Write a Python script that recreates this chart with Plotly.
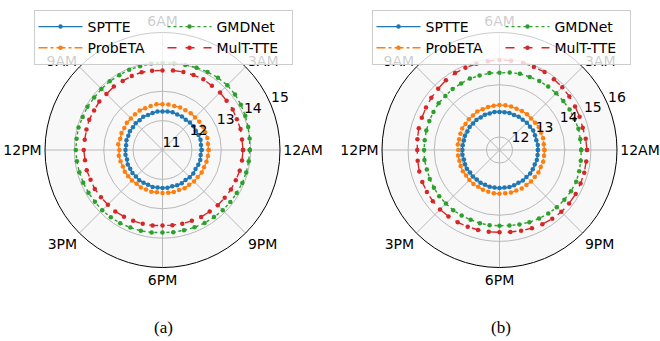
import plotly.graph_objects as go

# ---------------- data ----------------
HOURS = [i * 0.5 for i in range(48)]          # half-hour slots, 0..23.5
ANGLE_TICK_VALS = [0, 45, 90, 135, 180, 225, 270, 315]
ANGLE_TICK_TEXT = ["12AM", "3AM", "6AM", "9AM", "12PM", "3PM", "6PM", "9PM"]
SERIES_NAMES = ["SPTTE", "ProbETA", "GMDNet", "MulT-TTE"]

A_RTICKS = [11, 12, 13, 14, 15]
B_RTICKS = [12, 13, 14, 15, 16]

A_SPTTE = [12.33, 12.32, 12.34, 12.33, 12.31, 12.33, 12.32, 12.30, 12.32, 12.31, 12.33, 12.32,
           12.31, 12.32, 12.30, 12.29, 12.31, 12.28, 12.29, 12.27, 12.28, 12.26, 12.27, 12.25,
           12.26, 12.27, 12.25, 12.28, 12.27, 12.29, 12.28, 12.30, 12.29, 12.28, 12.30, 12.29,
           12.29, 12.30, 12.28, 12.30, 12.31, 12.29, 12.31, 12.32, 12.30, 12.32, 12.33, 12.31]
A_PROBETA = [12.57, 12.56, 12.58, 12.57, 12.59, 12.58, 12.57, 12.58, 12.56, 12.57, 12.55, 12.56,
             12.56, 12.57, 12.55, 12.54, 12.55, 12.53, 12.52, 12.53, 12.50, 12.51, 12.49, 12.52,
             12.47, 12.50, 12.48, 12.46, 12.48, 12.47, 12.47, 12.45, 12.47, 12.46, 12.47, 12.45,
             12.46, 12.47, 12.48, 12.47, 12.50, 12.49, 12.52, 12.51, 12.54, 12.53, 12.55, 12.56]
A_GMDNET = [13.97, 13.99, 14.02, 14.05, 14.08, 14.11, 14.12, 14.10, 14.07, 14.03, 14.00, 13.98,
            13.96, 13.97, 13.95, 13.96, 13.94, 13.95, 13.94, 13.93, 13.95, 13.94, 13.96, 13.95,
            13.95, 13.94, 13.93, 13.92, 13.91, 13.90, 13.90, 13.89, 13.88, 13.86, 13.85, 13.83,
            13.81, 13.82, 13.83, 13.85, 13.87, 13.88, 13.90, 13.91, 13.92, 13.94, 13.95, 13.96]
A_MULTTTE = [13.74, 13.73, 13.75, 13.74, 13.76, 13.75, 13.77, 13.76, 13.78, 13.76, 13.75, 13.73,
             13.71, 13.72, 13.74, 13.73, 13.71, 13.72, 13.70, 13.71, 13.69, 13.70, 13.68, 13.67,
             13.68, 13.66, 13.67, 13.65, 13.66, 13.64, 13.63, 13.64, 13.62, 13.61, 13.60, 13.59,
             13.57, 13.58, 13.60, 13.61, 13.63, 13.64, 13.66, 13.67, 13.69, 13.70, 13.72, 13.73]

B_SPTTE = [12.97, 12.98, 12.96, 12.97, 12.99, 12.97, 12.98, 12.96, 12.97, 12.95, 12.97, 12.96,
           12.96, 12.97, 12.95, 12.96, 12.94, 12.95, 12.93, 12.94, 12.92, 12.93, 12.91, 12.92,
           12.92, 12.93, 12.91, 12.93, 12.94, 12.92, 12.94, 12.93, 12.95, 12.94, 12.96, 12.95,
           12.96, 12.95, 12.97, 12.96, 12.95, 12.97, 12.96, 12.98, 12.97, 12.96, 12.98, 12.97]
B_PROBETA = [13.22, 13.21, 13.23, 13.22, 13.24, 13.22, 13.21, 13.23, 13.22, 13.21, 13.22, 13.23,
             13.22, 13.21, 13.20, 13.19, 13.20, 13.17, 13.16, 13.14, 13.15, 13.12, 13.10, 13.11,
             13.08, 13.10, 13.09, 13.11, 13.12, 13.11, 13.13, 13.14, 13.13, 13.15, 13.16, 13.17,
             13.18, 13.17, 13.19, 13.18, 13.20, 13.19, 13.21, 13.20, 13.22, 13.21, 13.23, 13.22]
B_GMDNET = [14.63, 14.62, 14.63, 14.61, 14.60, 14.58, 14.57, 14.56, 14.55, 14.53, 14.52, 14.49,
            14.46, 14.47, 14.45, 14.46, 14.44, 14.45, 14.43, 14.44, 14.42, 14.41, 14.40, 14.39,
            14.39, 14.40, 14.38, 14.39, 14.40, 14.41, 14.40, 14.41, 14.40, 14.39, 14.40, 14.41,
            14.40, 14.42, 14.45, 14.49, 14.53, 14.57, 14.60, 14.63, 14.66, 14.68, 14.66, 14.64]
B_MULTTTE = [14.85, 14.83, 14.80, 14.82, 14.84, 14.87, 14.90, 14.92, 14.95, 14.94, 14.96, 14.95,
             14.95, 14.93, 14.92, 14.91, 14.90, 14.87, 14.82, 14.79, 14.75, 14.72, 14.70, 14.67,
             14.65, 14.66, 14.68, 14.70, 14.71, 14.72, 14.72, 14.71, 14.70, 14.68, 14.67, 14.66,
             14.65, 14.67, 14.70, 14.74, 14.78, 14.82, 14.85, 14.86, 14.87, 14.86, 14.86, 14.85]

# ---------------- styling ----------------
COLORS = ["#1f77b4", "#ff7f0e", "#2ca02c", "#d62728"]
DASHES = ["solid", "dashdot", "dot", "dash"]
GROUPS = ["c1", "c1", "c2", "c2"]
FONT = "DejaVu Sans"
RLABEL_ANGLE = 22.5

theta = [h * 15 for h in HOURS] + [360]

fig = go.Figure()

def add_panel(values, polar, legend, tag, rticks):
    for name, vals, col, dash, grp in zip(SERIES_NAMES, values, COLORS, DASHES, GROUPS):
        fig.add_trace(go.Scatterpolar(
            r=list(vals) + [vals[0]], theta=theta, name=name, mode="lines+markers",
            line=dict(color=col, width=1.4, dash=dash),
            marker=dict(color=col, size=4.5),
            subplot=polar, legend=legend, legendgroup=grp + tag,
        ))
    # radial tick labels, placed like matplotlib's (upper-right of the ring crossing)
    fig.add_trace(go.Scatterpolar(
        r=rticks, theta=[RLABEL_ANGLE] * len(rticks), mode="text",
        text=[str(t) for t in rticks], textposition="top right",
        textfont=dict(family=FONT, size=14, color="black"),
        cliponaxis=False, showlegend=False, hoverinfo="skip", subplot=polar,
    ))

# order within legend columns: column 1 SPTTE/ProbETA, column 2 GMDNet/MulT-TTE
add_panel([A_SPTTE, A_PROBETA, A_GMDNET, A_MULTTTE], "polar", "legend", "a", A_RTICKS)
add_panel([B_SPTTE, B_PROBETA, B_GMDNET, B_MULTTTE], "polar2", "legend2", "b", B_RTICKS)

def polar_layout(xdom, rrange, rticks):
    return dict(
        domain=dict(x=xdom, y=[73.5 / 341, 308.5 / 341]),
        bgcolor="#f8f8f8",
        radialaxis=dict(range=rrange, tickvals=rticks, showticklabels=False,
                        angle=RLABEL_ANGLE, showline=False, ticks="",
                        gridcolor="#b8b8b8", gridwidth=0.8),
        angularaxis=dict(thetaunit="degrees", direction="counterclockwise", rotation=0,
                         tickvals=ANGLE_TICK_VALS, ticktext=ANGLE_TICK_TEXT,
                         showline=True, linecolor="black", linewidth=1,
                         gridcolor="#b8b8b8", gridwidth=0.8, ticks="",
                         tickfont=dict(family=FONT, size=14, color="black")),
    )

def legend_layout(xc):
    return dict(x=xc, y=1 - 10 / 341, xanchor="center", yanchor="top",
                orientation="h", traceorder="grouped", entrywidth=70, itemwidth=44,
                bgcolor="rgba(255,255,255,0.8)", bordercolor="#cccccc", borderwidth=1,
                font=dict(family=FONT, size=14, color="black"))

fig.update_layout(
    width=660, height=341,
    margin=dict(l=0, r=0, t=0, b=0),
    paper_bgcolor="white",
    showlegend=True,
    polar=polar_layout([45 / 660, 280 / 660], [11, 15], A_RTICKS),
    polar2=polar_layout([382 / 660, 617 / 660], [11.5, 16], B_RTICKS),
    legend=legend_layout(163 / 660),
    legend2=legend_layout(501 / 660),
    annotations=[
        dict(text="(a)", x=163 / 660, y=1 - 327 / 341, xref="paper", yref="paper",
             xanchor="center", yanchor="middle",
             showarrow=False, font=dict(family="Liberation Serif", size=17, color="black")),
        dict(text="(b)", x=501 / 660, y=1 - 327 / 341, xref="paper", yref="paper",
             xanchor="center", yanchor="middle",
             showarrow=False, font=dict(family="Liberation Serif", size=17, color="black")),
    ],
)

fig.write_html("out.html", config={"displayModeBar": False},
               post_script="document.body.style.margin='0';document.body.style.padding='0';")
